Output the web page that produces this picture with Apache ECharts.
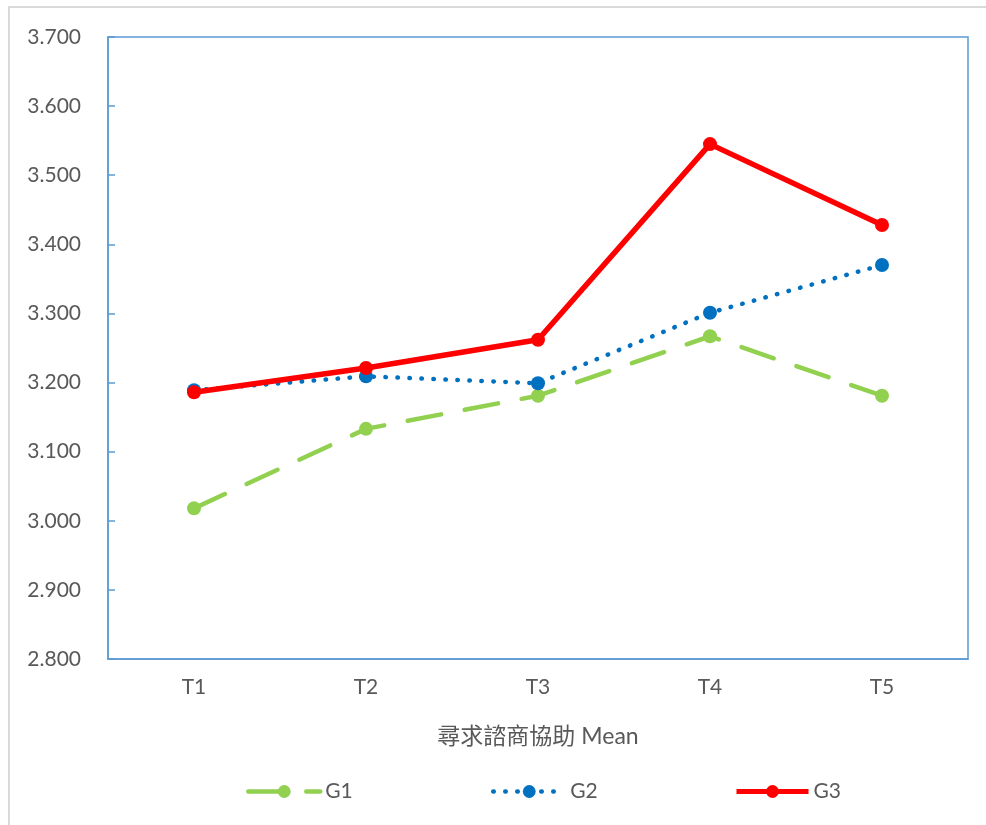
<!DOCTYPE html>
<html>
<head>
<meta charset="utf-8">
<script src="https://cdn.jsdelivr.net/npm/echarts@6/dist/echarts.min.js"></script>
<style>
html,body{margin:0;padding:0;background:#fff;}
#chart{width:986px;height:825px;}
</style>
</head>
<body>
<div id="chart"></div>
<script>
const categories = ['T1', 'T2', 'T3', 'T4', 'T5'];
const g1Values = [3.018, 3.133, 3.181, 3.267, 3.181];
const g2Values = [3.189, 3.209, 3.199, 3.301, 3.370];
const g3Values = [3.186, 3.221, 3.262, 3.545, 3.428];
const seriesNames = ['G1', 'G2', 'G3'];
const axisTitle = '尋求諮商協助 Mean';

const txt = '#595959';
const fontFam = 'Lato, "Noto Sans CJK TC", sans-serif';

const chart = echarts.init(document.getElementById('chart'), null, {renderer: 'canvas'});

function legendAt(name, left, lw) {
  return {
    data: [name],
    left: left,
    top: 776,
    itemWidth: 72,
    itemHeight: 16,
    itemGap: 5,
    lineStyle: {width: lw},
    textStyle: {color: txt, fontSize: 21, fontFamily: fontFam},
    selectedMode: false
  };
}

chart.setOption({
  animation: false,
  backgroundColor: '#fff',
  graphic: [{
    type: 'rect',
    shape: {x: 9, y: 7, width: 1000, height: 840},
    style: {fill: 'none', stroke: '#D9D9D9', lineWidth: 2},
    silent: true,
    z: -10
  }],
  grid: {
    left: 108, right: 18, top: 37, bottom: 166,
    show: true, borderColor: '#5B9BD5', borderWidth: 1.5,
    containLabel: false
  },
  legend: [legendAt(seriesNames[0], 241, 4.5), legendAt(seriesNames[1], 486, 4.5), legendAt(seriesNames[2], 729, 5)],
  xAxis: {
    type: 'category',
    data: categories,
    boundaryGap: true,
    name: axisTitle,
    nameLocation: 'middle',
    nameGap: 66,
    nameTextStyle: {color: txt, fontSize: 23, fontFamily: fontFam},
    axisLine: {show: true, lineStyle: {color: '#5B9BD5', width: 1.5}},
    axisTick: {show: false},
    axisLabel: {color: txt, fontSize: 21, fontFamily: fontFam, margin: 18},
    splitLine: {show: false}
  },
  yAxis: {
    type: 'value',
    min: 2.8,
    max: 3.7,
    interval: 0.1,
    axisLine: {show: true, lineStyle: {color: '#5B9BD5', width: 1.5}},
    axisTick: {show: true, inside: true, length: 7, lineStyle: {color: '#5B9BD5', width: 1.5}},
    axisLabel: {color: txt, fontSize: 21, fontFamily: fontFam, margin: 27,
      formatter: v => v.toFixed(3)},
    splitLine: {show: false}
  },
  series: [
    {
      name: seriesNames[0], type: 'line', data: g1Values,
      symbol: 'circle', symbolSize: 14,
      itemStyle: {color: '#92D050'},
      lineStyle: {color: '#92D050', width: 4.5, type: [34, 24], cap: 'round'},
      z: 2
    },
    {
      name: seriesNames[1], type: 'line', data: g2Values,
      symbol: 'circle', symbolSize: 14,
      itemStyle: {color: '#0070C0'},
      lineStyle: {color: '#0070C0', width: 4.5, type: [0.5, 11.5], cap: 'round'},
      z: 3
    },
    {
      name: seriesNames[2], type: 'line', data: g3Values,
      symbol: 'circle', symbolSize: 14,
      itemStyle: {color: '#FF0000'},
      lineStyle: {color: '#FF0000', width: 5.5},
      z: 4
    }
  ]
});
</script>
</body>
</html>
